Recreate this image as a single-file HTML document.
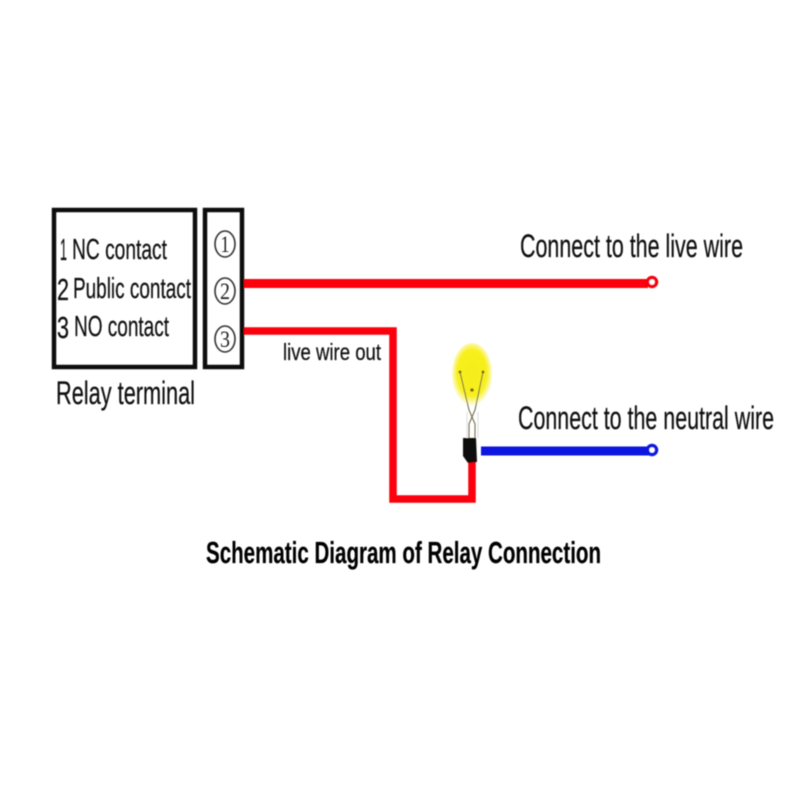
<!DOCTYPE html>
<html>
<head>
<meta charset="utf-8">
<style>
html,body{margin:0;padding:0;background:#fff;width:800px;height:800px;overflow:hidden}
svg{display:block}
text{font-family:"Liberation Sans",sans-serif;fill:#0c0c0c;stroke:#0c0c0c;stroke-width:0.2}
.d{font-family:"Liberation Serif",serif;fill:#222;stroke:none}
</style>
</head>
<body>
<svg width="800" height="800" viewBox="0 0 800 800" xmlns="http://www.w3.org/2000/svg">
<defs>
<radialGradient id="g" cx="50%" cy="48%" r="50%">
<stop offset="0%" stop-color="#f6ee1a"/>
<stop offset="75%" stop-color="#f8f020"/>
<stop offset="100%" stop-color="#fdfbd0"/>
</radialGradient>
<filter id="b" x="-5%" y="-5%" width="110%" height="110%"><feGaussianBlur stdDeviation="0.4"/></filter>
</defs>
<rect width="800" height="800" fill="#fff"/>
<g filter="url(#b)">
<!-- boxes -->
<rect x="54" y="210" width="141" height="157" fill="none" stroke="#111" stroke-width="4.5"/>
<rect x="205" y="210" width="37" height="157" fill="none" stroke="#111" stroke-width="4.5"/>

<!-- box labels -->
<text x="60" y="260" font-size="31" textLength="7" lengthAdjust="spacingAndGlyphs">1</text>
<text x="72" y="259" font-size="29" textLength="95" lengthAdjust="spacingAndGlyphs">NC contact</text>
<text x="57" y="300" font-size="31" textLength="12" lengthAdjust="spacingAndGlyphs">2</text>
<text x="73" y="298" font-size="29" textLength="118" lengthAdjust="spacingAndGlyphs">Public contact</text>
<text x="57" y="338" font-size="31" textLength="12" lengthAdjust="spacingAndGlyphs">3</text>
<text x="74" y="336" font-size="29" textLength="95" lengthAdjust="spacingAndGlyphs">NO contact</text>
<text x="56" y="404" font-size="32" textLength="139" lengthAdjust="spacingAndGlyphs">Relay terminal</text>

<!-- numbered terminals -->
<g fill="none" stroke="#333" stroke-width="1.6">
<ellipse cx="225" cy="244" rx="10" ry="13"/>
<ellipse cx="225" cy="291" rx="10" ry="13"/>
<ellipse cx="225" cy="339" rx="10" ry="13"/>
</g>
<text class="d" x="225" y="252" font-size="23" text-anchor="middle" textLength="9" lengthAdjust="spacingAndGlyphs">1</text>
<text class="d" x="225" y="299" font-size="23" text-anchor="middle" textLength="10" lengthAdjust="spacingAndGlyphs">2</text>
<text class="d" x="225" y="347" font-size="23" text-anchor="middle" textLength="10" lengthAdjust="spacingAndGlyphs">3</text>

<!-- red wires -->
<rect x="244" y="279" width="404" height="9" fill="#fb0008"/>
<circle cx="652" cy="282" r="4.5" fill="#fff" stroke="#f5000c" stroke-width="3.5"/>
<polyline points="244,331 393,331 393,499 472,499 472,460" fill="none" stroke="#fb0008" stroke-width="7.5"/>

<!-- blue wire -->
<rect x="481" y="446.5" width="168" height="9" fill="#0a14e0"/>
<circle cx="652" cy="450" r="4.5" fill="#fff" stroke="#0a14e0" stroke-width="3.5"/>

<!-- bulb -->
<ellipse cx="472" cy="374" rx="20" ry="31" fill="url(#g)"/>
<path d="M460 372 L469 410 L475 424 L475 438 M483 372 L475 410 L469 424 L469 438" fill="none" stroke="#75704a" stroke-width="1.1"/>
<path d="M467 412 L467 438 M478 412 L478 438" fill="none" stroke="#ddd" stroke-width="1"/>
<circle cx="472" cy="390" r="1.8" fill="#7a6a10"/>
<circle cx="460" cy="372" r="1.5" fill="#7a6a10"/>
<circle cx="483" cy="372" r="1.5" fill="#7a6a10"/>
<path d="M463 438 L476 438 L477 462 L468 463 L463 456 Z" fill="#0c0c0c"/>

<!-- text labels -->
<text x="283" y="360" font-size="23" textLength="98" lengthAdjust="spacingAndGlyphs">live wire out</text>
<text x="520" y="257" font-size="32" textLength="223" lengthAdjust="spacingAndGlyphs">Connect to the live wire</text>
<text x="518" y="429" font-size="32" textLength="256" lengthAdjust="spacingAndGlyphs">Connect to the neutral wire</text>
<text x="206" y="563" font-size="31" font-weight="bold" textLength="395" lengthAdjust="spacingAndGlyphs" style="fill:#050505">Schematic Diagram of Relay Connection</text>
</g>
</svg>
</body>
</html>
